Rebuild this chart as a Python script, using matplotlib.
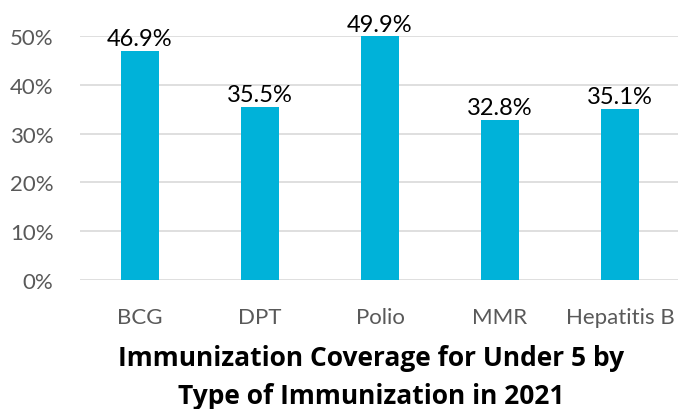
import matplotlib
matplotlib.use('Agg')
import matplotlib.pyplot as plt

categories = ['BCG', 'DPT', 'Polio', 'MMR', 'Hepatitis B']
coverage = [46.9, 35.5, 49.9, 32.8, 35.1]
yticks = [0, 10, 20, 30, 40, 50]

plt.rcParams['font.family'] = ['Lato', 'DejaVu Sans']

fig = plt.figure(figsize=(6.78, 4.10), dpi=100)
ax = fig.add_axes([80 / 678, 1 - 281 / 410, 600 / 678, (281 - 37) / 410])

x = list(range(len(categories)))
ax.bar(x, coverage, width=0.31, color='#00B2D9', zorder=3)
for xi, v in zip(x, coverage):
    ax.text(xi, v + 0.4, '%.1f%%' % v, ha='center', va='bottom',
            fontsize=17, color='#000000', clip_on=False)

ax.set_xlim(-0.5, 4.5)
ax.set_ylim(0, 50)
ax.set_yticks(yticks)
ax.set_yticklabels(['%d%%' % t for t in yticks], fontsize=16, color='#595959')
ax.set_xticks(x)
ax.set_xticklabels(categories, fontsize=16, color='#595959')
ax.tick_params(length=0)
ax.tick_params(axis='y', pad=19)
ax.tick_params(axis='x', pad=19.5)
ax.grid(axis='y', color='#D9D9D9', linewidth=1.2, zorder=0)
for s in ax.spines.values():
    s.set_visible(False)

# title sits under the axis, two lines
title_font = ['Open Sans', 'DejaVu Sans']
fig.text(0.5 + 32 / 678, 1 - 359 / 410, 'Immunization Coverage for Under 5 by',
         ha='center', va='center', fontsize=19, fontweight='bold', family=title_font)
fig.text(0.5 + 32 / 678, 1 - 397 / 410, 'Type of Immunization in 2021',
         ha='center', va='center', fontsize=19, fontweight='bold', family=title_font)

fig.savefig('out.png', dpi=100)
